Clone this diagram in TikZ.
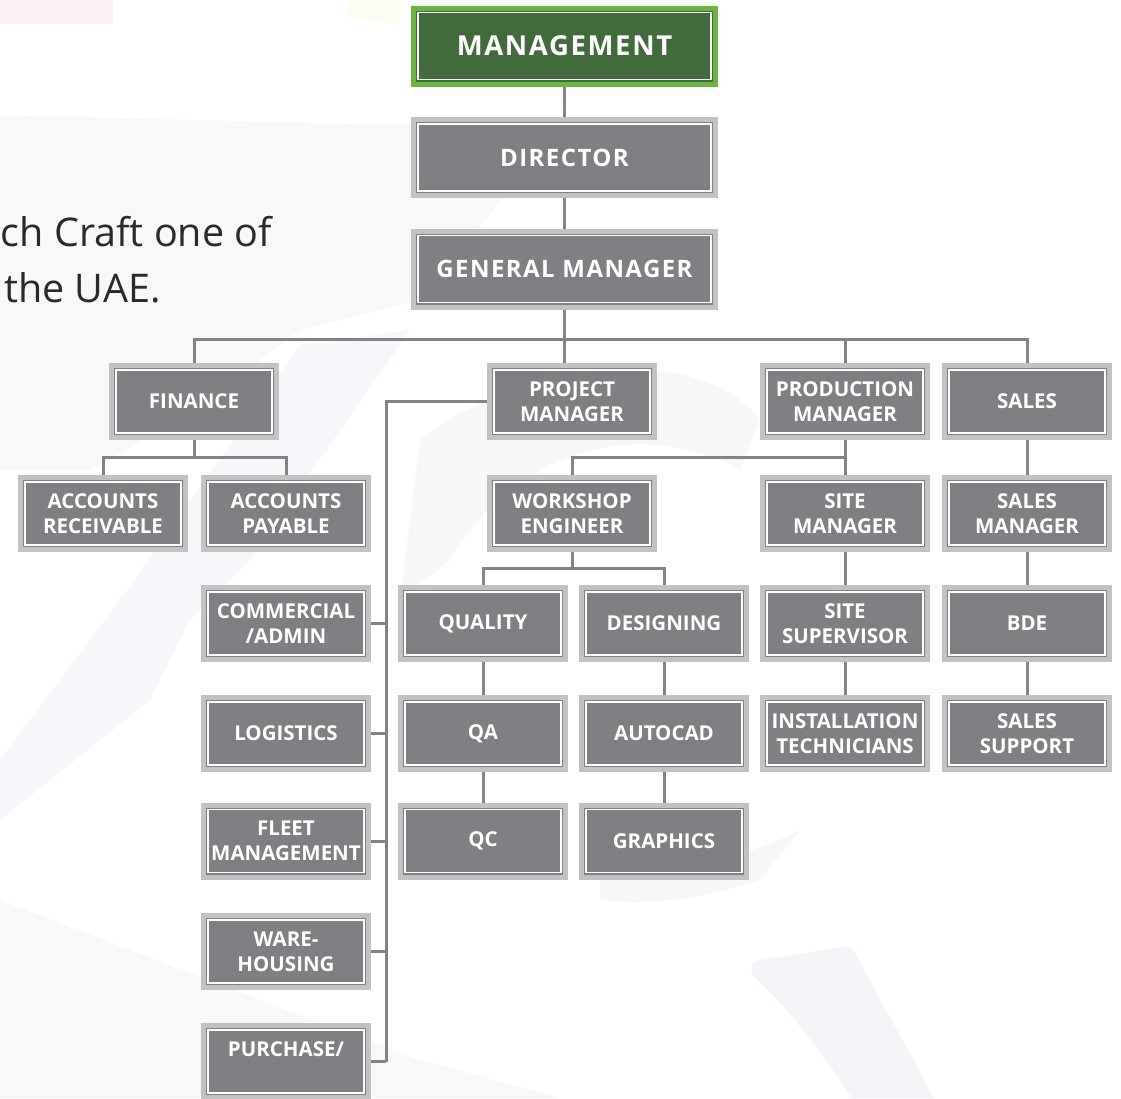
\documentclass[tikz,border=0pt]{standalone}
\usepackage{fontspec}
\setmainfont{Open Sans}
\newfontfamily\topfont{Open Sans}[LetterSpace=6]
\usetikzlibrary{calc}
\definecolor{boxfill}{HTML}{7F8083}
\definecolor{boxedge}{HTML}{C2C2C4}
\definecolor{linegray}{HTML}{838386}
\definecolor{gdark}{HTML}{426B3B}
\definecolor{glight}{HTML}{6CB33F}
\definecolor{txtdark}{HTML}{2A2A2A}
\pgfdeclarelayer{deep}
\pgfdeclarelayer{lines}
\pgfsetlayers{deep,lines,main}
\tikzset{
  orgbox/.style={rectangle, fill=boxfill, draw=boxedge, line width=5pt,
    minimum width=165pt, minimum height=72pt, inner sep=0pt,
    text=white, font=\bfseries\fontsize{20.5}{25}\selectfont, align=center,
    path picture={\draw[white, line width=1.3pt]
      ([shift={(4.5pt,4.5pt)}]path picture bounding box.south west) rectangle
      ([shift={(-4.5pt,-4.5pt)}]path picture bounding box.north east);}},
  topbox/.style={orgbox, minimum width=302pt, minimum height=76pt,
    font=\topfont\bfseries\fontsize{24}{28}\selectfont},
  greenbox/.style={topbox, fill=gdark, draw=glight,
    font=\topfont\bfseries\fontsize{27.5}{32}\selectfont},
  conn/.style={draw=linegray, line width=3pt},
  bgshape/.style={draw=none}
}
\begin{document}
\begin{tikzpicture}[x=1pt,y=-1pt]
\useasboundingbox (0,0) rectangle (1121,1098);
\clip (0,0) rectangle (1121,1098);
% faint background shapes
\begin{pgfonlayer}{deep}
\fill[white] (0,0) rectangle (1121,1098);
\fill[bgshape, fill={rgb,255:red,253;green,242;blue,243}] (0,0) rectangle (113,24);
\fill[bgshape, fill={rgb,255:red,252;green,252;blue,244}] (350,0) -- (400,0) -- (400,25) -- (352,19) .. controls (344,16) and (345,8) .. (350,0) -- cycle;
\fill[bgshape, fill={rgb,255:red,248;green,249;blue,247}] (0,115) -- (400,125) -- (560,128) -- (420,300) -- (300,330) -- (180,420) -- (90,470) -- (0,470) -- cycle;
\fill[bgshape, fill={rgb,255:red,246;green,247;blue,250}] (300,345) -- (410,330) -- (250,560) -- (190,620) -- (150,700) -- (0,820) -- (0,760) -- (120,600) -- cycle;
\fill[bgshape, fill={rgb,255:red,247;green,248;blue,246}] (420,440) .. controls (520,360) and (700,340) .. (760,420) -- (740,470) .. controls (650,420) and (520,440) .. (450,560) -- (400,600) -- cycle;
\fill[bgshape, fill={rgb,255:red,247;green,248;blue,246}] (600,880) .. controls (680,870) and (740,860) .. (800,830) -- (760,880) .. controls (700,900) and (650,905) .. (600,900) -- cycle;
\fill[bgshape, fill={rgb,255:red,243;green,244;blue,248}] (755,978) .. controls (748,970) and (752,962) .. (760,960) -- (842,947) .. controls (848,945) and (852,948) .. (856,955) -- (934,1098) -- (852,1098) .. controls (820,1050) and (790,1010) .. (755,978) -- cycle;
\fill[bgshape, fill={rgb,255:red,248;green,249;blue,247}] (0,900) -- (260,1000) -- (420,1060) -- (560,1098) -- (0,1098) -- cycle;
\end{pgfonlayer}
% left text
\node[anchor=base east, text=txtdark, font=\fontsize{39.5}{46}\selectfont, inner sep=0pt] (txtA) at (272,246) {ch Craft one of};
\node[anchor=base east, text=txtdark, font=\fontsize{39.5}{46}\selectfont, inner sep=0pt] (txtB) at (161,302) {the UAE.};
% top nodes
\node[greenbox] (mgmt) at (564.5,46) {MANAGEMENT};
\node[topbox] (dir) at (564.5,157.5) {DIRECTOR};
\node[topbox] (gm) at (564.5,269) {GENERAL MANAGER};
% row 1
\node[orgbox] (fin) at (194,401.5) {FINANCE};
\node[orgbox] (pm) at (572,401.5) {PROJECT\\MANAGER};
\node[orgbox] (prod) at (845,401.5) {PRODUCTION\\MANAGER};
\node[orgbox] (sales) at (1027,401.5) {SALES};
% row 2
\node[orgbox] (ar) at (103,513.5) {ACCOUNTS\\RECEIVABLE};
\node[orgbox] (ap) at (286,513.5) {ACCOUNTS\\PAYABLE};
\node[orgbox] (we) at (572,513.5) {WORKSHOP\\ENGINEER};
\node[orgbox] (sm) at (845,513.5) {SITE\\MANAGER};
\node[orgbox] (salesm) at (1027,513.5) {SALES\\MANAGER};
% row 3
\node[orgbox] (com) at (286,623.5) {COMMERCIAL\\/ADMIN};
\node[orgbox] (qual) at (483,623.5) {QUALITY};
\node[orgbox] (des) at (664,623.5) {DESIGNING};
\node[orgbox] (ss) at (845,623.5) {SITE\\SUPERVISOR};
\node[orgbox] (bde) at (1027,623.5) {BDE};
% row 4
\node[orgbox] (log) at (286,733.5) {LOGISTICS};
\node[orgbox] (qa) at (483,733.5) {QA};
\node[orgbox] (auto) at (664,733.5) {AUTOCAD};
\node[orgbox] (inst) at (845,733.5) {INSTALLATION\\TECHNICIANS};
\node[orgbox] (sup) at (1027,733.5) {SALES\\SUPPORT};
% row 5
\node[orgbox] (fleet) at (286,841) {FLEET\\MANAGEMENT};
\node[orgbox] (qc) at (483,841) {QC};
\node[orgbox] (gfx) at (664,841) {GRAPHICS};
% rows 6, 7
\node[orgbox] (ware) at (286,951.5) {WARE-\\HOUSING};
\node[orgbox] (purch) at (286,1061.5) {PURCHASE/\\\mbox{}};
% connectors
\coordinate (bus) at (565,339);
\coordinate (finbus) at (194,457);
\coordinate (prodbus) at (845,457);
\coordinate (webus) at (572,568);
\coordinate (spine) at (386,401.5);
\begin{pgfonlayer}{lines}
\draw[conn] (mgmt.south) -- (dir.north);
\draw[conn] (dir.south) -- (gm.north);
\draw[conn] (gm.south) -- (gm.south |- pm.north);
\draw[conn] (fin.north) |- (bus) -| (sales.north);
\draw[conn] (bus -| prod.north) -- (prod.north);
% finance
\draw[conn] (fin.south) -- (finbus);
\draw[conn] (ar.north) |- (finbus) -| (ap.north);
% project manager spine
\draw[conn] (pm.west) -- (spine) -- (spine |- purch.east);
\foreach \n in {com,log,fleet,ware,purch}{
  \draw[conn] (\n.east) -- (spine |- \n.east);
}
% production
\draw[conn] (prod.south) -- (sm.north);
\draw[conn] (we.north) |- (prodbus);
\draw[conn] (sm.south) -- (ss.north);
\draw[conn] (ss.south) -- (inst.north);
% workshop engineer
\draw[conn] (we.south) -- (webus);
\draw[conn] (qual.north) |- (webus) -| (des.north);
\draw[conn] (qual.south) -- (qa.north);
\draw[conn] (qa.south) -- (qc.north);
\draw[conn] (des.south) -- (auto.north);
\draw[conn] (auto.south) -- (gfx.north);
% sales
\draw[conn] (sales.south) -- (salesm.north);
\draw[conn] (salesm.south) -- (bde.north);
\draw[conn] (bde.south) -- (sup.north);
\end{pgfonlayer}
\end{tikzpicture}
\end{document}
